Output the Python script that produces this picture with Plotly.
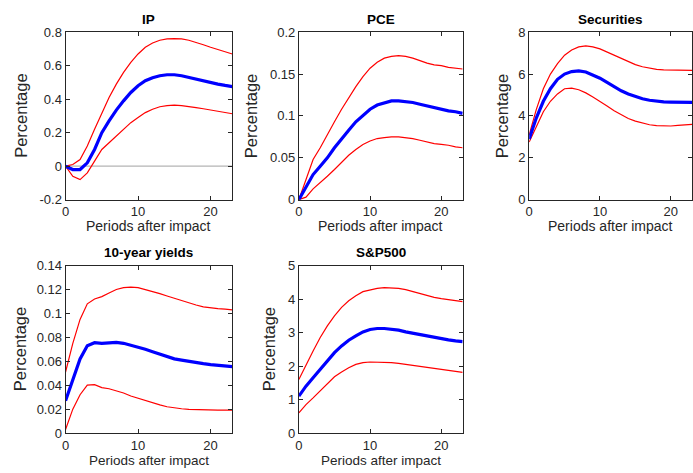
import plotly.graph_objects as go

periods = list(range(24))

# Impulse responses: median (blue) and error bands (red)
ip_mid = [0, -0.02, -0.02, 0.02, 0.10, 0.20, 0.27, 0.335, 0.39, 0.44, 0.48, 0.51, 0.528, 0.54,
          0.546, 0.546, 0.54, 0.53, 0.52, 0.508, 0.497, 0.49, 0.482, 0.475]
ip_up = [0, 0.01, 0.04, 0.12, 0.22, 0.32, 0.41, 0.49, 0.56, 0.62, 0.67, 0.71, 0.735, 0.752,
         0.76, 0.762, 0.76, 0.752, 0.74, 0.725, 0.71, 0.697, 0.683, 0.67]
ip_lo = [0, -0.06, -0.08, -0.04, 0.03, 0.10, 0.14, 0.18, 0.22, 0.26, 0.29, 0.32, 0.34, 0.355,
         0.362, 0.365, 0.362, 0.358, 0.35, 0.343, 0.335, 0.328, 0.32, 0.313]

pce_mid = [0, 0.015, 0.03, 0.04, 0.05, 0.062, 0.073, 0.083, 0.093, 0.101, 0.108, 0.113, 0.116,
           0.118, 0.118, 0.117, 0.116, 0.114, 0.112, 0.110, 0.108, 0.106, 0.105, 0.103]
pce_up = [0, 0.025, 0.048, 0.062, 0.078, 0.093, 0.108, 0.122, 0.135, 0.147, 0.157, 0.164, 0.169,
          0.171, 0.172, 0.171, 0.169, 0.166, 0.163, 0.161, 0.160, 0.158, 0.157, 0.156]
pce_lo = [0, 0.003, 0.013, 0.02, 0.028, 0.036, 0.045, 0.053, 0.06, 0.066, 0.07, 0.073, 0.074,
          0.075, 0.075, 0.074, 0.073, 0.071, 0.069, 0.067, 0.066, 0.065, 0.063, 0.062]

sec_mid = [2.9, 3.9, 4.7, 5.3, 5.75, 6.0, 6.12, 6.15, 6.1, 5.95, 5.8, 5.6, 5.4, 5.2, 5.05, 4.92,
           4.82, 4.75, 4.7, 4.67, 4.66, 4.65, 4.65, 4.65]
sec_up = [3.1, 4.3, 5.3, 6.0, 6.5, 6.9, 7.15, 7.3, 7.35, 7.3, 7.2, 7.05, 6.9, 6.75, 6.6, 6.45,
          6.35, 6.27, 6.22, 6.2, 6.2, 6.2, 6.2, 6.18]
sec_lo = [2.75, 3.5, 4.2, 4.7, 5.05, 5.3, 5.33, 5.25, 5.1, 4.9, 4.7, 4.48, 4.25, 4.05, 3.88,
          3.75, 3.65, 3.58, 3.54, 3.52, 3.52, 3.55, 3.58, 3.6]

y10_mid = [0.027, 0.045, 0.062, 0.073, 0.0755, 0.075, 0.0755, 0.0757, 0.075, 0.0735, 0.072,
           0.07, 0.068, 0.066, 0.064, 0.062, 0.061, 0.0598, 0.0588, 0.058, 0.0572, 0.0565,
           0.056, 0.0555]
y10_up = [0.051, 0.075, 0.095, 0.108, 0.112, 0.114, 0.117, 0.12, 0.1215, 0.122, 0.1215, 0.12,
          0.1185, 0.1165, 0.1145, 0.1125, 0.1105, 0.1085, 0.107, 0.1055, 0.1045, 0.104,
          0.1035, 0.103]
y10_lo = [0.003, 0.02, 0.032, 0.04, 0.0405, 0.038, 0.037, 0.0355, 0.0335, 0.031, 0.029, 0.027,
          0.025, 0.0235, 0.022, 0.021, 0.0203, 0.0198, 0.0195, 0.0193, 0.0192, 0.0192,
          0.0192, 0.0192]

sp_mid = [1.1, 1.4, 1.65, 1.9, 2.15, 2.4, 2.6, 2.77, 2.9, 3.02, 3.09, 3.12, 3.12, 3.1, 3.07,
          3.02, 2.98, 2.93, 2.88, 2.84, 2.81, 2.78, 2.75, 2.73]
sp_up = [1.6, 2.05, 2.45, 2.85, 3.2, 3.5, 3.75, 3.95, 4.1, 4.22, 4.28, 4.32, 4.34, 4.34, 4.32,
         4.28, 4.22, 4.16, 4.1, 4.05, 4.01, 3.98, 3.95, 3.92]
sp_lo = [0.6, 0.85, 1.05, 1.25, 1.45, 1.68, 1.82, 1.95, 2.05, 2.1, 2.12, 2.12, 2.12, 2.1, 2.08,
         2.05, 2.02, 1.98, 1.95, 1.91, 1.88, 1.86, 1.83, 1.81]

titles = ["IP", "PCE", "Securities", "10-year yields", "S&P500"]
y_ticks = [
    [-0.2, 0, 0.2, 0.4, 0.6, 0.8],
    [0, 0.05, 0.1, 0.15, 0.2],
    [0, 2, 4, 6, 8],
    [0, 0.02, 0.04, 0.06, 0.08, 0.1, 0.12, 0.14],
    [0, 1, 2, 3, 4, 5],
]
x_ticks = [0, 10, 20]

series = [
    (ip_mid, ip_up, ip_lo),
    (pce_mid, pce_up, pce_lo),
    (sec_mid, sec_up, sec_lo),
    (y10_mid, y10_up, y10_lo),
    (sp_mid, sp_up, sp_lo),
]

W, H = 693, 473
# panel boxes in pixels: left, right, top, bottom
boxes = [
    (62, 230, 26, 199),
    (297, 462, 26, 199),
    (529, 693, 26, 199),
    (62, 230, 267, 440),
    (297, 462, 267, 440),
]
# horizontal centre of each "Percentage" label, in pixels
ylabel_x = [17, 249, 502, 16, 267]
# vertical offset of "Periods after impact" below each panel, and its size
xlabel_dy = [27, 27, 27, 28, 28]
xlabel_size = [14, 14, 14, 13.5, 13.5]

FONT = "Liberation Sans, Arial, sans-serif"
INK = "#262626"

fig = go.Figure()
layout = dict(
    width=W, height=H, margin=dict(l=0, r=0, t=0, b=0),
    paper_bgcolor="white", plot_bgcolor="white", showlegend=False,
    font=dict(family=FONT, color=INK, size=12),
)
annotations = []

for i, ((mid, up, lo), title, yt, box, ylx) in enumerate(
        zip(series, titles, y_ticks, boxes, ylabel_x)):
    n = i + 1
    xa = "x" if n == 1 else f"x{n}"
    ya = "y" if n == 1 else f"y{n}"
    l, r, t, b = box
    right = min(r / W, 1.0)
    xrange_hi = 23 * (right * W - l) / (r - l)

    if i == 0:
        fig.add_trace(go.Scatter(x=[0, 23], y=[0, 0], mode="lines",
                                 line=dict(color="#b4b4b4", width=1.2),
                                 xaxis=xa, yaxis=ya, hoverinfo="skip"))
    for band in (up, lo):
        fig.add_trace(go.Scatter(x=periods, y=band, mode="lines",
                                 line=dict(color="#ff0000", width=1.2),
                                 xaxis=xa, yaxis=ya))
    fig.add_trace(go.Scatter(x=periods, y=mid, mode="lines",
                             line=dict(color="#0000ff", width=3.2),
                             xaxis=xa, yaxis=ya))

    common = dict(showline=True, linecolor=INK, linewidth=1, mirror="ticks",
                  ticks="inside", ticklen=4, tickcolor=INK, showgrid=False,
                  zeroline=False, tickfont=dict(family=FONT, size=13, color=INK))
    layout["xaxis" if n == 1 else f"xaxis{n}"] = dict(
        common, domain=[l / W, right], range=[0, xrange_hi],
        tickvals=x_ticks, anchor=ya,
    )
    layout["yaxis" if n == 1 else f"yaxis{n}"] = dict(
        common, domain=[1 - b / H, 1 - t / H], range=[yt[0], yt[-1]],
        tickvals=yt, ticktext=[f"{v:g}" for v in yt], anchor=xa,
    )

    annotations.append(dict(text=f"<b>{title}</b>", x=(l + r) / 2 / W, y=1 - (t - 13) / H,
                            xref="paper", yref="paper", showarrow=False,
                            font=dict(family=FONT, size=13.5, color="black"),
                            xanchor="center", yanchor="middle"))
    annotations.append(dict(text="Periods after impact", x=(l + min(r, W)) / 2 / W,
                            y=1 - (b + xlabel_dy[i]) / H, xref="paper", yref="paper",
                            showarrow=False, xanchor="center", yanchor="middle",
                            font=dict(family=FONT, size=xlabel_size[i], color=INK)))
    annotations.append(dict(text="Percentage", x=ylx / W, y=1 - (t + b) / 2 / H,
                            xref="paper", yref="paper", showarrow=False, textangle=-90,
                            xanchor="center", yanchor="middle",
                            font=dict(family=FONT, size=16.5, color=INK)))

layout["annotations"] = annotations
fig.update_layout(**layout)
fig.write_html("out.html")
